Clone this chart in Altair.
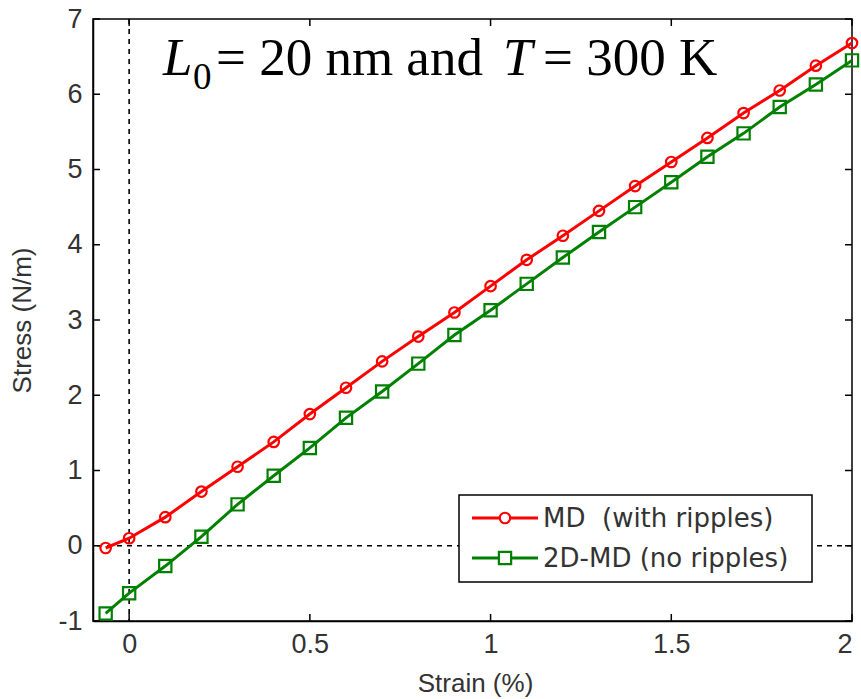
import altair as alt
import pandas as pd

strain = [-0.065, 0.0, 0.1, 0.2, 0.3, 0.4, 0.5, 0.6, 0.7, 0.8, 0.9, 1.0,
          1.1, 1.2, 1.3, 1.4, 1.5, 1.6, 1.7, 1.8, 1.9, 2.0]
stress_md = [-0.03, 0.10, 0.38, 0.72, 1.05, 1.38, 1.75, 2.10, 2.45, 2.78, 3.10, 3.45,
             3.80, 4.12, 4.45, 4.78, 5.10, 5.42, 5.75, 6.05, 6.38, 6.68]
stress_2d = [-0.90, -0.63, -0.27, 0.12, 0.55, 0.93, 1.30, 1.70, 2.05, 2.42, 2.80, 3.13,
             3.48, 3.83, 4.17, 4.50, 4.83, 5.17, 5.48, 5.83, 6.13, 6.45]
series_names = ["MD\u00a0\u00a0(with ripples)", "2D-MD (no ripples)"]
series_colors = ["#ff0000", "#008000"]
series_shapes = ["circle", "square"]
x_ticks = [0, 0.5, 1, 1.5, 2]
y_ticks = [-1, 0, 1, 2, 3, 4, 5, 6, 7]

W, H = 759, 602

df = pd.DataFrame({
    "strain": strain * 2,
    "stress": stress_md + stress_2d,
    "series": [series_names[0]] * len(strain) + [series_names[1]] * len(strain),
})

xs = alt.Scale(domain=[-0.1, 2], nice=False, zero=False)
ys = alt.Scale(domain=[-1, 7], nice=False, zero=False)
cs = alt.Scale(domain=series_names, range=series_colors)
ss = alt.Scale(domain=series_names, range=series_shapes)

AX_FONT = "Liberation Sans"
LBL_COLOR = "#333333"

xaxis = alt.Axis(values=x_ticks, grid=False, ticks=False, tickSize=0, labelPadding=10,
                 labelFontSize=27, labelFont=AX_FONT, labelColor=LBL_COLOR,
                 labelExpr="'' + datum.value",
                 domainColor="black", domainWidth=1.5,
                 title="Strain (%)", titleFontSize=26, titleFont=AX_FONT, titleFontWeight="normal",
                 titleColor=LBL_COLOR, titleX=382, titleY=62, titleBaseline="middle", titleAlign="center")
yaxis = alt.Axis(values=y_ticks, grid=False, ticks=False, tickSize=0, labelPadding=11,
                 labelFontSize=27, labelFont=AX_FONT, labelColor=LBL_COLOR,
                 labelExpr="'' + datum.value",
                 domainColor="black", domainWidth=1.5,
                 title="Stress (N/m)", titleFontSize=26, titleFont=AX_FONT, titleFontWeight="normal",
                 titleColor=LBL_COLOR, titleX=-71, titleY=301, titleAngle=270,
                 titleBaseline="middle", titleAlign="center")

base = alt.Chart(df)

# dashed zero lines
zero_df = pd.DataFrame({"v": [0]})
vline = alt.Chart(zero_df).mark_rule(color="black", strokeWidth=1.6, strokeDash=[5, 5]).encode(
    x=alt.X("v:Q", scale=xs, axis=xaxis))
hline = alt.Chart(zero_df).mark_rule(color="black", strokeWidth=1.6, strokeDash=[5, 5]).encode(
    y=alt.Y("v:Q", scale=ys, axis=yaxis))

lines = base.mark_line(strokeWidth=3).encode(
    x=alt.X("strain:Q", scale=xs),
    y=alt.Y("stress:Q", scale=ys),
    color=alt.Color("series:N", scale=cs, legend=None),
    detail="series:N",
)
pts = base.mark_point(filled=False, strokeWidth=2.2, opacity=1).encode(
    x=alt.X("strain:Q", scale=xs),
    y=alt.Y("stress:Q", scale=ys),
    color=alt.Color("series:N", scale=cs, legend=None),
    shape=alt.Shape("series:N", scale=ss, legend=None),
    size=alt.Size("series:N", scale=alt.Scale(domain=series_names, range=[110, 150]), legend=None),
)

# inward ticks on all four sides
xt = pd.DataFrame({"t": x_ticks})
yt = pd.DataFrame({"t": y_ticks})
TL = 7
tick_style = dict(color="black", strokeWidth=1.5)
xt_bot = alt.Chart(xt).mark_rule(**tick_style).encode(
    x=alt.X("t:Q", scale=xs), y=alt.value(H), y2=alt.value(H - TL))
xt_top = alt.Chart(xt).mark_rule(**tick_style).encode(
    x=alt.X("t:Q", scale=xs), y=alt.value(0), y2=alt.value(TL))
yt_left = alt.Chart(yt).mark_rule(**tick_style).encode(
    y=alt.Y("t:Q", scale=ys), x=alt.value(0), x2=alt.value(TL))
yt_right = alt.Chart(yt).mark_rule(**tick_style).encode(
    y=alt.Y("t:Q", scale=ys), x=alt.value(W), x2=alt.value(W - TL))

# annotation text
one = pd.DataFrame({"a": [0]})
SERIF = "Liberation Serif"
BL = 56
def txt(s, x, y, size, italic=False):
    return alt.Chart(one).mark_text(text=s, font=SERIF, fontSize=size, align="left",
                                    baseline="alphabetic", color="black",
                                    fontStyle="italic" if italic else "normal").encode(
        x=alt.value(x), y=alt.value(y))

ann = [
    txt("L", 163 - 93, BL, 53, True),
    txt("0", 193 - 93, BL + 14, 37),
    txt("= 20 nm and", 216 - 93, BL, 53),
    txt("T", 503 - 93, BL, 53, True),
    txt("= 300 K", 543 - 93, BL, 53),
]

# legend box
leg_x0, leg_x1, leg_y0, leg_y1 = 459 - 93, 812 - 93, 495 - 19, 582 - 19
leg_box = alt.Chart(one).mark_rect(fill="white", stroke="black", strokeWidth=1.5).encode(
    x=alt.value(leg_x0), x2=alt.value(leg_x1), y=alt.value(leg_y0), y2=alt.value(leg_y1))
leg_layers = [leg_box]
row_y = [518 - 19, 558 - 19]
for i in range(2):
    leg_layers.append(alt.Chart(one).mark_rule(color=series_colors[i], strokeWidth=3).encode(
        x=alt.value(472 - 93), x2=alt.value(538 - 93), y=alt.value(row_y[i])))
    leg_layers.append(alt.Chart(one).mark_point(shape=series_shapes[i], filled=False, strokeWidth=2.2,
                                                 color=series_colors[i], size=[110, 150][i], opacity=1,
                                                 fill="white").encode(
        x=alt.value(505 - 93), y=alt.value(row_y[i])))
    leg_layers.append(alt.Chart(one).mark_text(text=series_names[i], font="DejaVu Sans", fontSize=26,
                                                align="left", baseline="middle", color=LBL_COLOR).encode(
        x=alt.value(543 - 93), y=alt.value(row_y[i] + 1)))

chart = alt.layer(
    vline, hline, lines, pts, xt_bot, xt_top, yt_left, yt_right, *ann, *leg_layers
).properties(
    width=W, height=H,
    autosize=alt.AutoSizeParams(type="none"),
    padding={"left": 93, "top": 19, "right": 9, "bottom": 78},
    background="white",
).configure_view(stroke="black", strokeWidth=1.5)

chart.save("out.html", embed_options={"renderer": "svg", "actions": False})
